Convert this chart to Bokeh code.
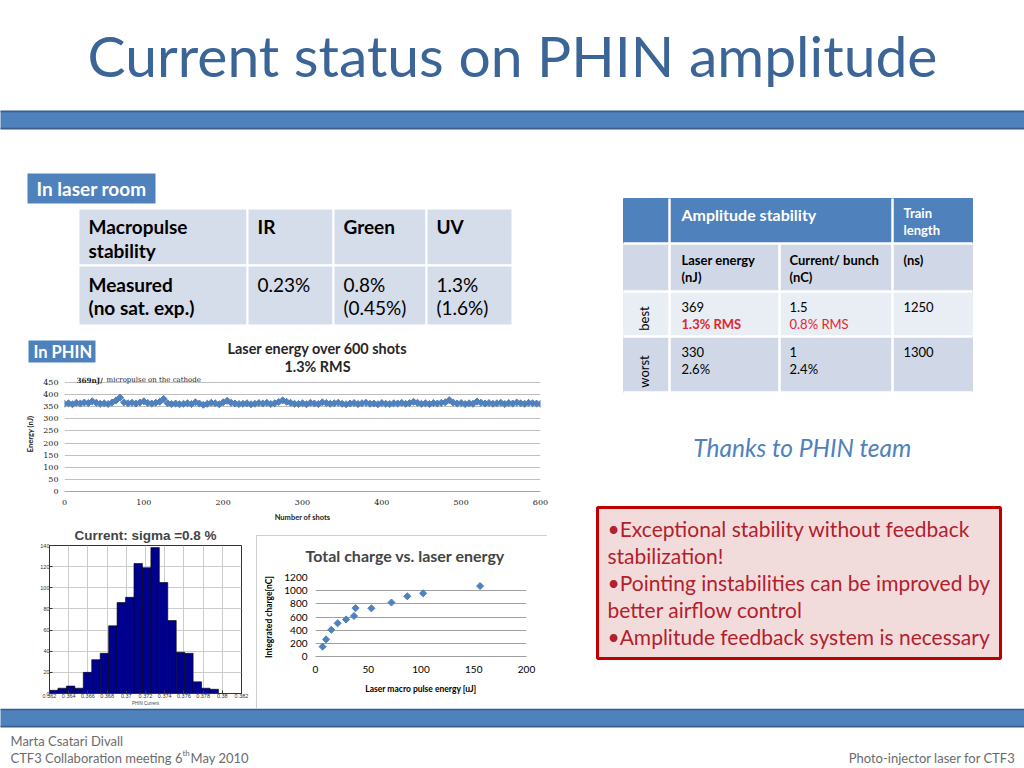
import numpy as np
from bokeh.plotting import figure
from bokeh.layouts import column, row
from bokeh.models import Range1d, FixedTicker, CustomJSTickFormatter, Spacer
from bokeh.core.properties import value
from bokeh.embed import file_html
from bokeh.resources import INLINE

# ---------------- data ----------------
slide_title = "Current status on PHIN amplitude"
room_label = "In laser room"
phin_label = "In PHIN"

t1_header = ["Macropulse\nstability", "IR", "Green", "UV"]
t1_values = ["Measured\n(no sat. exp.)", "0.23%", "0.8%\n(0.45%)", "1.3%\n(1.6%)"]

t2_top = ["", "Amplitude stability", "Train\nlength"]
t2_units = ["", "Laser energy\n(nJ)", "Current/ bunch\n(nC)", "(ns)"]
t2_cases = ["best", "worst"]
t2_energy = ["369", "330"]
t2_energy_rms = ["1.3% RMS", "2.6%"]
t2_current = ["1.5", "1"]
t2_current_rms = ["0.8% RMS", "2.4%"]
t2_train = ["1250", "1300"]

thanks = "Thanks to PHIN team"
bullets = ["\u2022Exceptional stability without feedback\nstabilization!",
           "\u2022Pointing instabilities can be improved by\nbetter airflow control",
           "\u2022Amplitude feedback system is necessary"]

energy_title = ["Laser energy over 600 shots", "1.3% RMS"]
energy_note = ["369nJ/", " micropulse  on the cathode"]
energy_shots = list(range(0, 601, 5))
energy_nj = [362, 364, 360, 366, 363, 367, 365, 372, 366, 362,
             364, 361, 367, 376, 388, 368, 364, 366, 363, 367,
             372, 365, 363, 366, 370, 382, 364, 361, 363, 360,
             362, 364, 361, 368, 363, 358, 362, 366, 364, 360,
             368, 374, 366, 363, 361, 362, 364, 360, 362, 365,
             363, 366, 361, 364, 369, 376, 370, 366, 362, 361,
             364, 360, 366, 363, 361, 368, 365, 362, 364, 366,
             362, 360, 363, 365, 361, 364, 366, 362, 363, 360,
             365, 362, 361, 364, 363, 366, 362, 365, 370, 366,
             362, 364, 361, 365, 363, 366, 368, 377, 367, 363,
             365, 361, 364, 362, 371, 366, 363, 365, 362, 364,
             366, 361, 365, 363, 367, 364, 362, 366, 364, 363,
             362]
energy_xticks = [0, 100, 200, 300, 400, 500, 600]
energy_yticks = [0, 50, 100, 150, 200, 250, 300, 350, 400, 450]

hist_title = "Current: sigma =0.8 %"
hist_xlabel = "PHIN Current"
hist_lo, hist_hi = 0.3620, 0.3796
hist_counts = [3, 5, 7, 5, 20, 32, 38, 64, 86, 91, 123, 119, 138, 105, 69, 39, 38, 11, 5, 4]
hist_xticks = [0.362, 0.364, 0.366, 0.368, 0.370, 0.372, 0.374, 0.376, 0.378, 0.380, 0.382]
hist_yticks = [0, 20, 40, 60, 80, 100, 120, 140]

charge_title = "Total charge vs. laser energy"
charge_energy_uj = [6.7, 10, 15, 21, 29, 36.5, 38, 53, 72, 87, 102, 156]
charge_nc = [150, 260, 405, 505, 563, 615, 735, 732, 820, 915, 960, 1070]
charge_xticks = [0, 50, 100, 150, 200]
charge_yticks = [0, 200, 400, 600, 800, 1000, 1200]

footer_author = "Marta Csatari Divall"
footer_meeting = ["CTF3 Collaboration meeting 6", "th", " May 2010"]
footer_right = "Photo-injector laser for CTF3"

# ---------------- style ----------------
CAL = "Lato"
BLUE = "#4f81bd"
DARKBLUE = "#385d8a"
TITLE_BLUE = "#3b6497"


def canvas(x0, x1, y0, y1):
    p = figure(width=x1 - x0, height=y1 - y0, x_range=Range1d(x0, x1), y_range=Range1d(y1, y0),
               output_backend="svg", toolbar_location=None, min_border=0,
               x_axis_location=None, y_axis_location=None)
    p.grid.visible = False
    p.outline_line_color = None
    p.background_fill_color = "white"
    p.border_fill_color = "white"
    return p


def txt(p, x, y, s, size, color="black", style="normal", font=CAL, align="left",
        baseline="middle", angle=0.0, lh=None):
    for i, ln in enumerate(s.split("\n")):
        p.text(x=[x], y=[y + i * (lh or 0)], text=[ln], text_font=value(font),
               text_font_size=f"{size}px", text_color=color, text_font_style=style,
               text_align=align, text_baseline=baseline, angle=angle)


def bar(p, y0, y1):
    p.quad(left=[-5], right=[1030], top=[y0 - 1], bottom=[y1 + 1], fill_color=None,
           line_color="#b9cde5", line_width=1)
    p.quad(left=[-5], right=[1030], top=[y0], bottom=[y1], fill_color=BLUE,
           line_color=DARKBLUE, line_width=1.5)


# ---------------- header ----------------
ph_head = canvas(0, 1024, 0, 165)
txt(ph_head, 512, 54, slide_title, 57, TITLE_BLUE, align="center")
bar(ph_head, 111, 128)

# ---------------- left decor (laser-room table) ----------------
pa = canvas(0, 560, 165, 376)
pa.quad(left=[27], right=[155], top=[173], bottom=[203], fill_color=BLUE, line_color=None)
txt(pa, 36, 188, room_label, 19, "white", "bold")

t1_cols = [78, 247, 333, 426, 512]
t1_rows = [208, 265, 325]
for r in range(2):
    pa.quad(left=t1_cols[:-1], right=t1_cols[1:], top=[t1_rows[r]] * 4, bottom=[t1_rows[r + 1]] * 4,
            fill_color="#d5dcea", line_color="white", line_width=2)
for c in range(4):
    txt(pa, t1_cols[c] + 10, 226, t1_header[c], 19, "black", "bold", lh=24)
    txt(pa, t1_cols[c] + 10, 284, t1_values[c], 19, "black", "bold" if c == 0 else "normal", lh=23)

pa.quad(left=[28], right=[95], top=[340], bottom=[362], fill_color=BLUE, line_color=None)
txt(pa, 33, 351, phin_label, 16.5, "white", "bold")
txt(pa, 317, 348, energy_title[0], 14.4, "#262626", "bold", align="center")
txt(pa, 317, 366, energy_title[1], 14.4, "#262626", "bold", align="center")

# ---------------- energy chart ----------------
E_L, E_R, E_T, E_B, E_450, E_END = 64, 540, 376, 492, 382, 524
e_ymax = 450 * (E_B - E_T) / (E_B - E_450)
pe = figure(width=560, height=E_END - E_T, x_range=Range1d(0, 600), y_range=Range1d(0, e_ymax),
            output_backend="svg", toolbar_location=None,
            min_border_left=E_L, min_border_right=560 - E_R,
            min_border_top=0, min_border_bottom=E_END - E_B)
pe.outline_line_color = None
pe.xgrid.grid_line_color = None
pe.ygrid.ticker = FixedTicker(ticks=energy_yticks)
pe.ygrid.grid_line_color = "#bfbfbf"
pe.xaxis.ticker = FixedTicker(ticks=energy_xticks)
pe.yaxis.ticker = FixedTicker(ticks=energy_yticks)
for ax in (pe.xaxis[0], pe.yaxis[0]):
    ax.major_tick_out = 0
    ax.major_tick_in = 0
    ax.minor_tick_out = 0
    ax.minor_tick_in = 0
    ax.major_label_text_font = "DejaVu Serif"
    ax.major_label_text_font_size = "8px"
    ax.major_label_text_color = "#222222"
    ax.axis_label_text_font = CAL
    ax.axis_label_text_font_style = "bold"
    ax.axis_label_text_font_size = "7.5px"
    ax.axis_label_text_color = "#222222"
pe.xaxis.axis_line_color = "#a6a6a6"
pe.yaxis.axis_line_color = None
pe.xaxis.major_label_standoff = 8
pe.xaxis.axis_label = "Number of shots"
pe.xaxis.axis_label_standoff = 5
pe.yaxis.major_label_standoff = 6
pe.yaxis.axis_label = "Energy (nJ)"
pe.yaxis.axis_label_standoff = 5
pe.scatter(energy_shots, energy_nj, marker="square", angle=np.pi / 4, size=5,
           color=BLUE, line_color=BLUE)
e_px = 600 / (E_R - E_L)
e_py = 450 / (E_B - E_450)
pe.text(x=[(76 - E_L) * e_px], y=[(E_B - 380) * e_py], text=[energy_note[0]],
        text_font=value("DejaVu Serif"), text_font_size="7.2px", text_font_style="bold",
        text_baseline="middle", text_color="#222222")
pe.text(x=[(106 - E_L) * e_px], y=[(E_B - 380) * e_py], text=[energy_note[1]],
        text_font=value("DejaVu Serif"), text_font_size="7px",
        text_baseline="middle", text_color="#222222")

# ---------------- histogram ----------------
ROW_T = E_END
H_L, H_R, H_T, H_B = 49, 241, 545, 695
ph = figure(width=256, height=708 - ROW_T, x_range=Range1d(0.362, 0.382), y_range=Range1d(0, 140),
            output_backend="svg", toolbar_location=None, title=hist_title,
            min_border_left=H_L, min_border_right=256 - H_R,
            min_border_top=H_T - ROW_T, min_border_bottom=708 - H_B)
ph.title.align = "center"
ph.title.vertical_align = "top"
ph.title.text_font = "Liberation Sans"
ph.title.text_font_size = "13.5px"
ph.title.text_font_style = "bold"
ph.title.standoff = 2
ph.outline_line_color = "#333333"
ph.xaxis.ticker = FixedTicker(ticks=hist_xticks)
ph.yaxis.ticker = FixedTicker(ticks=hist_yticks)
ph.xgrid.ticker = FixedTicker(ticks=hist_xticks)
ph.ygrid.ticker = FixedTicker(ticks=hist_yticks)
ph.grid.grid_line_color = "#cccccc"
ph.xaxis.formatter = CustomJSTickFormatter(code="return String(Number(tick.toFixed(3)));")
for ax in (ph.xaxis[0], ph.yaxis[0]):
    ax.major_tick_out = 0
    ax.major_tick_in = 3
    ax.minor_tick_out = 0
    ax.minor_tick_in = 0
    ax.axis_line_color = "#333333"
    ax.major_tick_line_color = "#333333"
    ax.major_label_text_font = "Liberation Sans"
    ax.major_label_text_font_size = "5.5px"
    ax.major_label_text_color = "#333333"
    ax.major_label_standoff = 0
ph.xaxis.axis_label = hist_xlabel
ph.xaxis.axis_label_text_font = "Liberation Sans"
ph.xaxis.axis_label_text_font_size = "4.5px"
ph.xaxis.axis_label_text_font_style = "normal"
ph.xaxis.axis_label_standoff = 0
edges = np.linspace(hist_lo, hist_hi, len(hist_counts) + 1)
ph.quad(left=edges[:-1], right=edges[1:], bottom=0, top=hist_counts,
        fill_color="#00008f", line_color="black", line_width=0.6)

# ---------------- charge scatter ----------------
B_L, B_R, B_T, B_B = 257, 548, 535, 708          # chart-area box
S_L, S_R, S_T, S_B = 316, 527, 575, 656          # plot frame
ps = figure(width=B_R - B_L, height=B_B - B_T, x_range=Range1d(0, 200), y_range=Range1d(0, 1200),
            output_backend="svg", toolbar_location=None, title=charge_title,
            min_border_left=S_L - B_L, min_border_right=B_R - S_R,
            min_border_top=S_T - B_T, min_border_bottom=B_B - S_B)
ps.styles = {"outline": "1px solid #bfbfbf", "outline-offset": "-1px"}
ps.title.align = "left"
ps.title.vertical_align = "top"
ps.title.offset = -10
ps.title.text_font = CAL
ps.title.text_font_size = "16px"
ps.title.text_font_style = "bold"
ps.title.standoff = 21
ps.outline_line_color = None
ps.xgrid.grid_line_color = None
ps.xaxis.ticker = FixedTicker(ticks=charge_xticks)
ps.yaxis.ticker = FixedTicker(ticks=charge_yticks)
ps.ygrid.ticker = FixedTicker(ticks=charge_yticks)
ps.ygrid.grid_line_color = "#a0a0a0"
for ax in (ps.xaxis[0], ps.yaxis[0]):
    ax.major_tick_out = 0
    ax.major_tick_in = 0
    ax.minor_tick_out = 0
    ax.minor_tick_in = 0
    ax.major_label_text_font = CAL
    ax.major_label_text_font_size = "10px"
    ax.major_label_text_color = "black"
    ax.axis_label_text_font = CAL
    ax.axis_label_text_font_style = "bold"
    ax.axis_label_text_font_size = "8.5px"
    ax.axis_label_text_color = "black"
ps.xaxis.axis_line_color = "#a0a0a0"
ps.yaxis.axis_line_color = None
ps.xaxis.major_label_standoff = 9
ps.yaxis.major_label_standoff = 8
ps.xaxis.axis_label = "Laser macro pulse energy [uJ]"
ps.yaxis.axis_label = "Integrated charge[nC]"
ps.xaxis.axis_label_standoff = 8
ps.yaxis.axis_label_standoff = 7
ps.scatter(charge_energy_uj, charge_nc, marker="square", angle=np.pi / 4, size=5,
           color=BLUE, line_color=BLUE)

# ---------------- right decor ----------------
pr = canvas(560, 1024, 165, 708)
t2_cols = [623, 669, 779, 892, 972]
t2_rows = [198, 243, 291, 336, 392]
row_fill = [BLUE, "#d0d8e8", "#e9edf4", "#d0d8e8"]
for r in range(4):
    pr.quad(left=t2_cols[:-1], right=t2_cols[1:], top=[t2_rows[r]] * 4, bottom=[t2_rows[r + 1]] * 4,
            fill_color=row_fill[r], line_color=row_fill[r], line_width=1)
for r in range(4):
    pr.segment(x0=[t2_cols[0]], y0=[t2_rows[r + 1]], x1=[t2_cols[-1]], y1=[t2_rows[r + 1]],
               line_color="white", line_width=2.5)
for c in (1, 3):
    pr.segment(x0=[t2_cols[c]], y0=[t2_rows[0]], x1=[t2_cols[c]], y1=[t2_rows[-1]],
               line_color="white", line_width=2.5)
pr.segment(x0=[t2_cols[2]], y0=[t2_rows[1]], x1=[t2_cols[2]], y1=[t2_rows[-1]],
           line_color="white", line_width=2.5)

txt(pr, 681, 214, t2_top[1], 16, "white", "bold")
txt(pr, 903, 212, t2_top[2], 13, "white", "bold", lh=17)
for c in (1, 2, 3):
    txt(pr, [0, 681, 789, 903][c], 259, t2_units[c], 13, "black", "bold", lh=17)
RED = "#e3262e"
for i in range(2):
    y0 = [306, 351][i]
    txt(pr, 643, [318, 371][i], t2_cases[i], 13, "black", align="center", angle=np.pi / 2)
    txt(pr, 681, y0, t2_energy[i], 13, "black")
    txt(pr, 681, y0 + 17, t2_energy_rms[i], 13, RED if i == 0 else "black", "bold" if i == 0 else "normal")
    txt(pr, 789, y0, t2_current[i], 13, "black")
    txt(pr, 789, y0 + 17, t2_current_rms[i], 13, RED if i == 0 else "black")
    txt(pr, 903, y0, t2_train[i], 13, "black")

txt(pr, 802, 447, thanks, 24.5, BLUE, "italic", align="center")

pr.quad(left=[597], right=[1000], top=[507], bottom=[658], fill_color="#f2dcdb",
        line_color="#c00000", line_width=3)
by = 528
for b in bullets:
    txt(pr, 607, by, b, 21, "#b3202e", lh=27)
    by += 27 * (b.count("\n") + 1)

# ---------------- footer ----------------
pf = canvas(0, 1024, 708, 768)
bar(pf, 709, 726)
txt(pf, 10, 740, footer_author, 13, "#6b6b6b")
txt(pf, 10, 757, footer_meeting[0], 13, "#6b6b6b")
txt(pf, 182, 752, footer_meeting[1], 8, "#6b6b6b")
txt(pf, 190, 757, footer_meeting[2], 13, "#6b6b6b")
txt(pf, 1015, 757, footer_right, 13, "#6b6b6b", align="right")

bottom_row = row(column(ph),
                 column(Spacer(width=B_R - B_L, height=B_T - ROW_T), ps),
                 Spacer(width=560 - B_R, height=708 - ROW_T))
left_col = column(row(pa), row(pe), bottom_row)
layout = column(ph_head, row(left_col, pr), pf)

open("out.html", "w").write(file_html(layout, INLINE))
